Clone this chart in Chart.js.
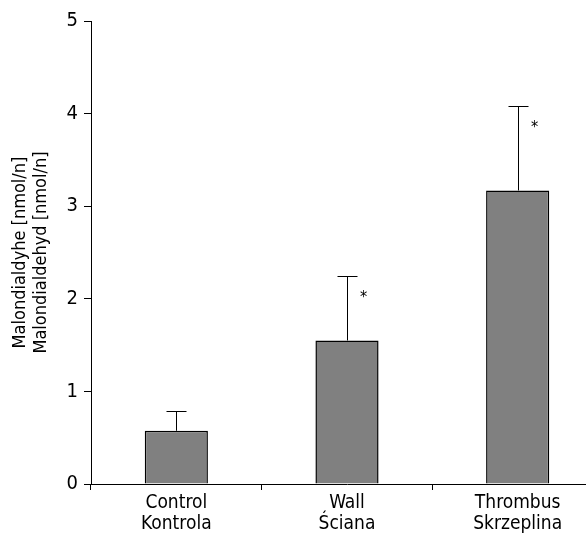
<!DOCTYPE html>
<html>
<head>
<meta charset="utf-8">
<script src="https://cdn.jsdelivr.net/npm/chart.js@4.4.1/dist/chart.umd.min.js"></script>
<style>
  html, body { margin: 0; padding: 0; background: #fff; overflow: hidden; }
  #wrap { width: 586px; height: 541px; overflow: hidden; }
</style>
</head>
<body>
<div id="wrap"><canvas id="chart" width="610" height="541"></canvas></div>
<script>
const categories = [["Control", "Kontrola"], ["Wall", "Ściana"], ["Thrombus", "Skrzeplina"]];
const means = [0.575, 1.55, 3.17];
const sdUpper = [0.21, 0.70, 0.91];
const significant = [false, true, true];
const yTicks = [0, 1, 2, 3, 4, 5];

const FONT = "'DejaVu Sans Condensed', 'Liberation Sans', sans-serif";

// Upper error bars and asterisks
const errorBars = {
  id: "errorBars",
  afterDatasetsDraw(chart) {
    const ctx = chart.ctx;
    const y = chart.scales.y;
    const meta = chart.getDatasetMeta(0);
    ctx.save();
    ctx.strokeStyle = "#000";
    ctx.lineWidth = 1;
    meta.data.forEach((bar, i) => {
      const top = Math.round(y.getPixelForValue(means[i] + sdUpper[i])) + 0.5;
      const base = y.getPixelForValue(means[i]);
      const x = Math.round(bar.x) + 0.5;
      ctx.beginPath();
      ctx.moveTo(x, base);
      ctx.lineTo(x, top);
      ctx.moveTo(x - 10, top);
      ctx.lineTo(x + 10, top);
      ctx.stroke();
      if (significant[i]) {
        ctx.fillStyle = "#000";
        ctx.font = "16px " + FONT;
        ctx.textAlign = "center";
        ctx.textBaseline = "middle";
        ctx.fillText("*", x + 16, top + 21);
      }
    });
    ctx.restore();
  }
};

new Chart(document.getElementById("chart"), {
  type: "bar",
  plugins: [errorBars],
  data: {
    labels: categories,
    datasets: [{
      data: means,
      backgroundColor: "#808080",
      borderColor: "#000",
      borderWidth: 1.5,
      borderSkipped: "bottom",
      categoryPercentage: 1,
      barPercentage: 0.37
    }]
  },
  options: {
    responsive: false,
    animation: false,
    layout: { padding: { top: 21, left: 0, right: 7, bottom: 0 } },
    plugins: { legend: { display: false }, tooltip: { enabled: false } },
    scales: {
      x: {
        offset: true,
        afterFit: (s) => { s.height = 57; },
        border: { display: true, color: "#000", width: 1 },
        grid: { display: true, offset: true, drawOnChartArea: false, drawTicks: true, tickLength: 6, color: "#000" },
        ticks: { color: "#000", font: { family: FONT, size: 19, lineHeight: 1.1 }, padding: 3, maxRotation: 0 }
      },
      y: {
        min: 0,
        max: 5,
        afterFit: (s) => { s.width = 91; },
        afterBuildTicks: (s) => { s.ticks = yTicks.map(v => ({ value: v })); },
        border: { display: true, color: "#000", width: 1 },
        grid: { display: true, drawOnChartArea: false, drawTicks: true, tickLength: 7, color: "#000" },
        ticks: { color: "#000", font: { family: FONT, size: 20 }, padding: 6 },
        title: {
          display: true,
          text: ["Malondialdyhe [nmol/n]", "Malondialdehyd [nmol/n]"],
          color: "#000",
          font: { family: FONT, size: 18, lineHeight: 1.17 },
          padding: { top: 10, bottom: 0 }
        }
      }
    }
  }
});
</script>
</body>
</html>
